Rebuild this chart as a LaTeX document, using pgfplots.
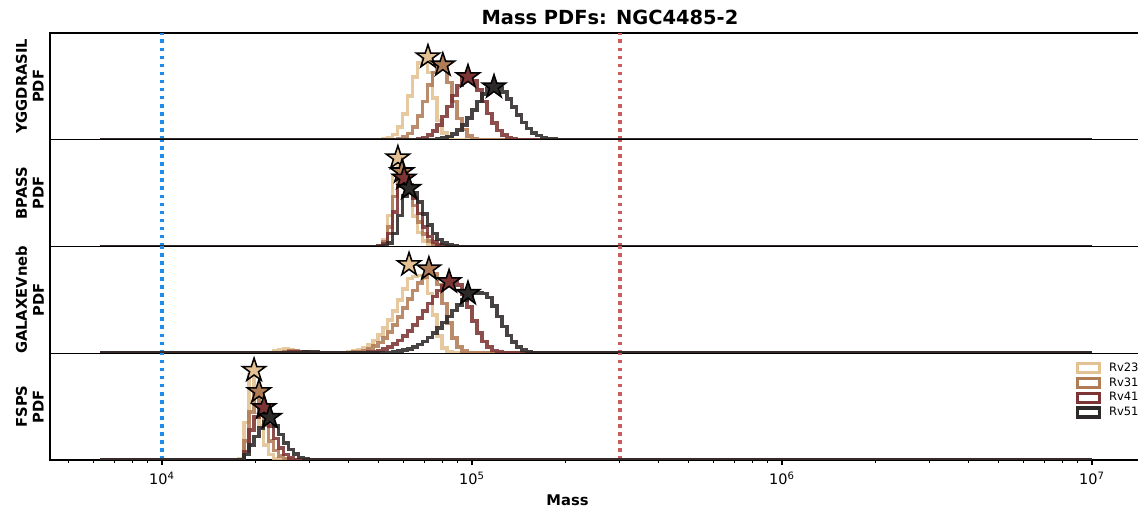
\documentclass[border=0pt]{standalone}
\usepackage{fontspec}
\setmainfont{DejaVu Sans}
\usepackage{pgfplots}
\pgfplotsset{compat=1.18}
\usepgfplotslibrary{groupplots}

\definecolor{c23}{RGB}{228,193,146}
\definecolor{c31}{RGB}{176,124,86}
\definecolor{c41}{RGB}{125,52,52}
\definecolor{c51}{RGB}{45,41,41}
\definecolor{vblue}{RGB}{30,140,235}
\definecolor{vred}{RGB}{205,92,92}

\pgfdeclareplotmark{fstar}{%
 \pgfpathmoveto{\pgfpointpolar{90}{\pgfplotmarksize}}%
 \pgfpathlineto{\pgfpointpolar{126}{0.382*\pgfplotmarksize}}%
 \pgfpathlineto{\pgfpointpolar{162}{\pgfplotmarksize}}%
 \pgfpathlineto{\pgfpointpolar{198}{0.382*\pgfplotmarksize}}%
 \pgfpathlineto{\pgfpointpolar{234}{\pgfplotmarksize}}%
 \pgfpathlineto{\pgfpointpolar{270}{0.382*\pgfplotmarksize}}%
 \pgfpathlineto{\pgfpointpolar{306}{\pgfplotmarksize}}%
 \pgfpathlineto{\pgfpointpolar{342}{0.382*\pgfplotmarksize}}%
 \pgfpathlineto{\pgfpointpolar{18}{\pgfplotmarksize}}%
 \pgfpathlineto{\pgfpointpolar{54}{0.382*\pgfplotmarksize}}%
 \pgfpathclose
 \pgfusepathqfillstroke
}

\pgfplotsset{
 hist/.style={const plot, line width=2.6pt, draw opacity=0.88, no marks, forget plot},
 h23/.style={hist, draw=c23},
 h31/.style={hist, draw=c31},
 h41/.style={hist, draw=c41},
 h51/.style={hist, draw=c51},
 st/.style={only marks, mark=fstar, mark size=8.8pt, forget plot},
 s23/.style={st, mark options={fill=c23, draw=black, line width=1.1pt}},
 s31/.style={st, mark options={fill=c31, draw=black, line width=1.1pt}},
 s41/.style={st, mark options={fill=c41, draw=black, line width=1.1pt}},
 s51/.style={st, mark options={fill=c51, draw=black, line width=1.1pt}},
 vb/.style={vblue, line width=2.6pt, dash pattern=on 2.6pt off 3.2pt, forget plot},
 vr/.style={vred, line width=2.6pt, dash pattern=on 2.6pt off 3.2pt, forget plot},
}

\begin{document}
\begin{tikzpicture}
\begin{groupplot}[
  group style={group size=1 by 4, vertical sep=0pt},
  scale only axis, width=785.36pt, height=76.86pt,
  xmin=3.6387, xmax=7.1574, ymin=0, ymax=1,
  xtick=\empty, ytick=\empty,
  axis line style={line width=0.9pt, black},
  tick align=outside, major tick length=3.5pt, minor tick length=2pt,
  major tick style={line width=0.8pt, black},
  minor tick style={line width=0.6pt, black},
  every axis y label/.style={at={([xshift=-4.3pt]rel axis cs:0,0.5)}, rotate=90, anchor=south, align=center, inner sep=0pt, font=\bfseries\fontsize{10.6}{12.2}\selectfont},
  title style={at={(axis cs:5.445,1)}, anchor=base, yshift=0pt, inner sep=0pt, font=\bfseries\fontsize{14}{16}\selectfont},
]
%% ---------------- YGGDRASIL
\nextgroupplot[ylabel={YGGDRASIL\\PDF}, title={Mass PDFs: NGC4485-2}]
\coordinate (TL) at (rel axis cs:0,1);
\addplot[vb] coordinates {(4,0) (4,1)};
\addplot[vr] coordinates {(5.4771,0) (5.4771,1)};
\addplot[h23] coordinates {(3.8,0) (4.712,0.006) (4.728,0.02) (4.744,0.05) (4.760,0.12) (4.776,0.24) (4.792,0.41) (4.808,0.59) (4.824,0.72) (4.840,0.765) (4.856,0.63) (4.872,0.39) (4.888,0.18) (4.904,0.065) (4.920,0.017) (4.936,0.004) (4.952,0) (7.0,0)};
\addplot[h31] coordinates {(3.8,0) (4.744,0.003) (4.760,0.01) (4.776,0.025) (4.792,0.06) (4.808,0.12) (4.824,0.22) (4.840,0.36) (4.856,0.51) (4.872,0.63) (4.888,0.70) (4.904,0.665) (4.920,0.535) (4.936,0.36) (4.952,0.20) (4.968,0.095) (4.984,0.037) (5.000,0.012) (5.016,0.004) (5.032,0) (7.0,0)};
\addplot[h41] coordinates {(3.8,0) (4.808,0.004) (4.824,0.01) (4.840,0.021) (4.856,0.043) (4.872,0.08) (4.888,0.137) (4.904,0.216) (4.920,0.313) (4.936,0.416) (4.952,0.508) (4.968,0.571) (4.984,0.59) (5.000,0.553) (5.016,0.468) (5.032,0.358) (5.048,0.247) (5.064,0.154) (5.080,0.086) (5.096,0.044) (5.112,0.02) (5.128,0.008) (5.144,0.003) (5.160,0) (7.0,0)};
\addplot[h51] coordinates {(3.8,0) (4.888,0.008) (4.904,0.016) (4.920,0.03) (4.936,0.054) (4.952,0.09) (4.968,0.14) (4.984,0.204) (5.000,0.279) (5.016,0.357) (5.032,0.426) (5.048,0.477) (5.064,0.50) (5.080,0.489) (5.096,0.448) (5.112,0.384) (5.128,0.308) (5.144,0.231) (5.160,0.162) (5.176,0.107) (5.192,0.066) (5.208,0.038) (5.224,0.02) (5.240,0.01) (5.256,0.005) (5.272,0) (7.0,0)};
\addplot[s23] coordinates {(4.858,0.776)};
\addplot[s31] coordinates {(4.906,0.70)};
\addplot[s41] coordinates {(4.987,0.59)};
\addplot[s51] coordinates {(5.071,0.495)};
%% ---------------- BPASS
\nextgroupplot[ylabel={BPASS\\PDF}]
\addplot[vb] coordinates {(4,0) (4,1)};
\addplot[vr] coordinates {(5.4771,0) (5.4771,1)};
\addplot[h23] coordinates {(3.8,0) (4.696,0.008) (4.712,0.066) (4.728,0.29) (4.744,0.67) (4.760,0.82) (4.776,0.71) (4.792,0.50) (4.808,0.285) (4.824,0.13) (4.840,0.05) (4.856,0.015) (4.872,0.004) (4.888,0) (7.0,0)};
\addplot[h31] coordinates {(3.8,0) (4.696,0.006) (4.712,0.043) (4.728,0.185) (4.744,0.47) (4.760,0.695) (4.776,0.675) (4.792,0.553) (4.808,0.385) (4.824,0.229) (4.840,0.116) (4.856,0.05) (4.872,0.018) (4.888,0.005) (4.904,0) (7.0,0)};
\addplot[h41] coordinates {(3.8,0) (4.696,0.004) (4.712,0.028) (4.728,0.12) (4.744,0.325) (4.760,0.566) (4.776,0.64) (4.792,0.577) (4.808,0.453) (4.824,0.309) (4.840,0.184) (4.856,0.095) (4.872,0.043) (4.888,0.017) (4.904,0.005) (4.920,0) (7.0,0)};
\addplot[h51] coordinates {(3.8,0) (4.712,0.007) (4.728,0.035) (4.744,0.12) (4.760,0.29) (4.776,0.475) (4.792,0.54) (4.808,0.50) (4.824,0.414) (4.840,0.307) (4.856,0.204) (4.872,0.121) (4.888,0.064) (4.904,0.031) (4.920,0.013) (4.936,0.005) (4.952,0) (7.0,0)};
\addplot[s23] coordinates {(4.761,0.83)};
\addplot[s31] coordinates {(4.774,0.70)};
\addplot[s41] coordinates {(4.781,0.64)};
\addplot[s51] coordinates {(4.797,0.545)};
%% ---------------- GALAXEVneb
\nextgroupplot[ylabel={GALAXEVneb\\PDF}]
\addplot[vb] coordinates {(4,0) (4,1)};
\addplot[vr] coordinates {(5.4771,0) (5.4771,1)};
\addplot[h23] coordinates {(3.8,0) (4.344,0.008) (4.360,0.022) (4.376,0.035) (4.392,0.038) (4.408,0.03) (4.424,0.018) (4.440,0.009) (4.456,0.004) (4.472,0.002) (4.488,0) (4.552,0.002) (4.568,0.003) (4.584,0.006) (4.600,0.011) (4.616,0.019) (4.632,0.032) (4.648,0.051) (4.664,0.079) (4.680,0.118) (4.696,0.17) (4.712,0.234) (4.728,0.309) (4.744,0.393) (4.760,0.50) (4.776,0.60) (4.792,0.70) (4.808,0.72) (4.824,0.73) (4.840,0.70) (4.856,0.56) (4.872,0.36) (4.888,0.16) (4.904,0.05) (4.920,0.012) (4.936,0.003) (4.952,0) (7.0,0)};
\addplot[h31] coordinates {(3.8,0) (4.376,0.006) (4.392,0.014) (4.408,0.02) (4.424,0.02) (4.440,0.015) (4.456,0.009) (4.472,0.004) (4.488,0.002) (4.504,0) (4.568,0.0015) (4.584,0.003) (4.600,0.005) (4.616,0.01) (4.632,0.016) (4.648,0.027) (4.664,0.043) (4.680,0.067) (4.696,0.099) (4.712,0.142) (4.728,0.197) (4.744,0.263) (4.760,0.34) (4.776,0.423) (4.792,0.508) (4.808,0.589) (4.824,0.66) (4.840,0.713) (4.856,0.76) (4.872,0.743) (4.888,0.644) (4.904,0.467) (4.920,0.283) (4.936,0.144) (4.952,0.061) (4.968,0.022) (4.984,0.007) (5.000,0.002) (5.016,0) (7.0,0)};
\addplot[h41] coordinates {(3.8,0) (4.392,0.004) (4.408,0.01) (4.424,0.014) (4.440,0.014) (4.456,0.011) (4.472,0.007) (4.488,0.003) (4.504,0) (4.616,0.002) (4.632,0.004) (4.648,0.007) (4.664,0.011) (4.680,0.017) (4.696,0.027) (4.712,0.041) (4.728,0.06) (4.744,0.085) (4.760,0.118) (4.776,0.159) (4.792,0.209) (4.808,0.266) (4.824,0.33) (4.840,0.398) (4.856,0.466) (4.872,0.53) (4.888,0.586) (4.904,0.631) (4.920,0.659) (4.936,0.67) (4.952,0.641) (4.968,0.553) (4.984,0.431) (5.000,0.303) (5.016,0.192) (5.032,0.11) (5.048,0.057) (5.064,0.027) (5.080,0.011) (5.096,0.004) (5.112,0) (7.0,0)};
\addplot[h51] coordinates {(3.8,0) (4.424,0.003) (4.440,0.007) (4.456,0.01) (4.472,0.011) (4.488,0.01) (4.504,0.007) (4.520,0.004) (4.536,0.002) (4.552,0) (4.664,0.001) (4.680,0.002) (4.696,0.003) (4.712,0.005) (4.728,0.008) (4.744,0.012) (4.760,0.019) (4.776,0.028) (4.792,0.041) (4.808,0.059) (4.824,0.082) (4.840,0.111) (4.856,0.146) (4.872,0.188) (4.888,0.236) (4.904,0.289) (4.920,0.345) (4.936,0.401) (4.952,0.454) (4.968,0.50) (4.984,0.54) (5.000,0.56) (5.016,0.565) (5.032,0.558) (5.048,0.523) (5.064,0.442) (5.080,0.345) (5.096,0.25) (5.112,0.167) (5.128,0.103) (5.144,0.059) (5.160,0.031) (5.176,0.015) (5.192,0.007) (5.208,0.003) (5.224,0) (7.0,0)};
\addplot[s23] coordinates {(4.797,0.83)};
\addplot[s31] coordinates {(4.861,0.79)};
\addplot[s41] coordinates {(4.926,0.67)};
\addplot[s51] coordinates {(4.987,0.56)};
%% ---------------- FSPS
\nextgroupplot[ylabel={FSPS\\PDF},
  xtick={4,5,6,7},
  xticklabels={10\textsuperscript{4},10\textsuperscript{5},10\textsuperscript{6},10\textsuperscript{7}},
  minor xtick={3.69897,3.77815,3.84510,3.90309,3.95424,
    4.30103,4.47712,4.60206,4.69897,4.77815,4.84510,4.90309,4.95424,
    5.30103,5.47712,5.60206,5.69897,5.77815,5.84510,5.90309,5.95424,
    6.30103,6.47712,6.60206,6.69897,6.77815,6.84510,6.90309,6.95424},
  xtick pos=left,
  xticklabel style={font=\fontsize{10.4}{12}\selectfont, yshift=-1.5pt},
  xlabel={Mass},
  xlabel style={at={(axis cs:5.308,0)}, anchor=base, yshift=-33pt, inner sep=0pt, font=\bfseries\fontsize{10.6}{12}\selectfont},
  legend image code/.code={\draw[#1,fill=white] (0pt,-3.2pt) rectangle (16pt,3.2pt);},
  legend style={at={(axis cs:6.947,0.925)}, anchor=north west, draw=none, fill=none, inner sep=0pt,
    font=\fontsize{8.3}{9.6}\selectfont, nodes={inner sep=1pt}, row sep=1pt, column sep=4.5pt},
  legend cell align=left,
]
\coordinate (BR) at (rel axis cs:1,0);
\addplot[vb] coordinates {(4,0) (4,1)};
\addplot[vr] coordinates {(5.4771,0) (5.4771,1)};
\addplot[h23] coordinates {(3.8,0) (4.248,0.01) (4.264,0.35) (4.280,0.80) (4.296,0.60) (4.312,0.32) (4.328,0.14) (4.344,0.05) (4.360,0.015) (4.376,0.004) (4.392,0) (7.0,0)};
\addplot[h31] coordinates {(3.8,0) (4.248,0.006) (4.264,0.18) (4.280,0.45) (4.296,0.62) (4.312,0.52) (4.328,0.33) (4.344,0.18) (4.360,0.09) (4.376,0.04) (4.392,0.015) (4.408,0.005) (4.424,0) (7.0,0)};
\addplot[h41] coordinates {(3.8,0) (4.248,0.004) (4.264,0.08) (4.280,0.28) (4.296,0.40) (4.312,0.47) (4.328,0.44) (4.344,0.32) (4.360,0.20) (4.376,0.11) (4.392,0.05) (4.408,0.02) (4.424,0.006) (4.440,0) (7.0,0)};
\addplot[h51] coordinates {(3.8,0) (4.248,0.003) (4.264,0.05) (4.280,0.14) (4.296,0.22) (4.312,0.30) (4.328,0.36) (4.344,0.39) (4.360,0.32) (4.376,0.24) (4.392,0.16) (4.408,0.10) (4.424,0.055) (4.440,0.025) (4.456,0.008) (4.472,0) (7.0,0)};
\addplot[s23] coordinates {(4.297,0.84)};
\addplot[s31] coordinates {(4.313,0.64)};
\addplot[s41] coordinates {(4.329,0.49)};
\addplot[s51] coordinates {(4.348,0.40)};
\addlegendimage{draw=c23, line width=2.4pt}
\addlegendentry{Rv23}
\addlegendimage{draw=c31, line width=2.4pt}
\addlegendentry{Rv31}
\addlegendimage{draw=c41, line width=2.4pt}
\addlegendentry{Rv41}
\addlegendimage{draw=c51, line width=2.4pt}
\addlegendentry{Rv51}
\end{groupplot}
\pgfresetboundingbox
\path ([xshift=-36pt,yshift=23.76pt]TL) rectangle ([xshift=-2pt,yshift=-34.56pt]BR);
\end{tikzpicture}
\end{document}
